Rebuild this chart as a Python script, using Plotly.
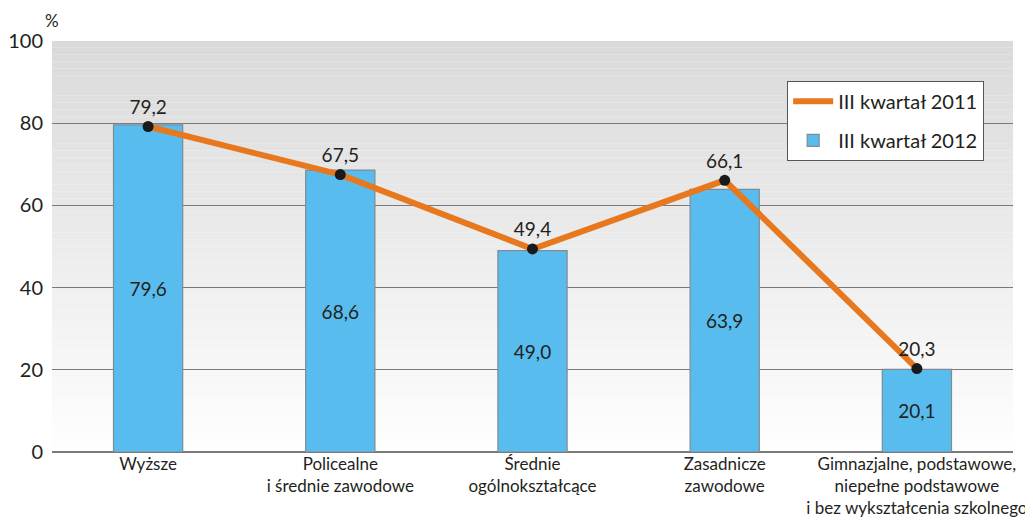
import plotly.graph_objects as go

categories = [
    "Wyższe",
    "Policealne<br>i średnie zawodowe",
    "Średnie<br>ogólnokształcące",
    "Zasadnicze<br>zawodowe",
    "Gimnazjalne, podstawowe,<br>niepełne podstawowe<br>i bez wykształcenia szkolnego",
]
values_2012 = [79.6, 68.6, 49.0, 63.9, 20.1]
values_2011 = [79.2, 67.5, 49.4, 66.1, 20.3]
y_ticks = [0, 20, 40, 60, 80, 100]


def fmt(v):
    return f"{v:.1f}".replace(".", ",")


FONT = "Lato"
TXT = "#231f20"
fig = go.Figure()

# legend entry for the line (line only, no marker)
fig.add_trace(go.Scatter(
    x=[categories[0]], y=[None], name="III kwartał 2011", mode="lines",
    legendgroup="a",
    line=dict(color="#e8781e", width=6),
))
fig.add_trace(go.Bar(
    x=categories, y=values_2012, name="III kwartał 2012",
    legendgroup="b",
    marker=dict(color="#58bdee", line=dict(color="#7f8a92", width=1.2)),
    text=[fmt(v) for v in values_2012], textposition="inside",
    insidetextanchor="middle", textangle=0,
    textfont=dict(size=19, color=TXT, family=FONT),
))
fig.add_trace(go.Scatter(
    x=categories, y=values_2011, name="III kwartał 2011",
    mode="lines+markers+text", showlegend=False,
    line=dict(color="#e8781e", width=6),
    marker=dict(color="#1a1a1a", size=11),
    text=[fmt(v) for v in values_2011], textposition="top center",
    textfont=dict(size=19, color=TXT, family=FONT),
))

# gradient background bands
shapes = []
n = 60
for i in range(n):
    t = i / n
    g = int(255 - (255 - 218) * (t + 0.5 / n))
    shapes.append(dict(type="rect", xref="paper", yref="paper",
                       x0=0, x1=1, y0=t, y1=t + 1 / n,
                       fillcolor=f"rgb({g},{g},{g})", line=dict(width=0),
                       layer="below"))

fig.update_layout(
    width=1025, height=513,
    margin=dict(l=44, r=20, t=33, b=69),
    paper_bgcolor="white", plot_bgcolor="rgba(0,0,0,0)",
    bargap=0.64, separators=",.",
    shapes=shapes,
    font=dict(family=FONT, color=TXT),
    showlegend=True,
    legend=dict(x=0.765, y=0.903, xanchor="left", yanchor="top",
                bgcolor="white", bordercolor="#555555", borderwidth=1,
                traceorder="grouped", font=dict(size=20, family=FONT),
                tracegroupgap=10, itemwidth=40),
    xaxis=dict(type="category", categoryorder="array", categoryarray=categories,
               showgrid=False, showline=False, ticks="", automargin=False,
               tickfont=dict(size=17, family=FONT), tickangle=0),
    yaxis=dict(range=[0, 100], tickvals=y_ticks, showgrid=True, automargin=False,
               gridcolor="#7a7a7a", gridwidth=1, zeroline=True,
               zerolinecolor="#7a7a7a", zerolinewidth=1.5, showline=False,
               ticks="", tickfont=dict(size=20, family=FONT), ticklabelstandoff=8),
    annotations=[dict(text="%", xref="paper", yref="paper", x=0.0, y=1.02,
                      xanchor="center", yanchor="bottom", showarrow=False,
                      font=dict(size=17, family=FONT))],
)

fig.write_html("out.html")
